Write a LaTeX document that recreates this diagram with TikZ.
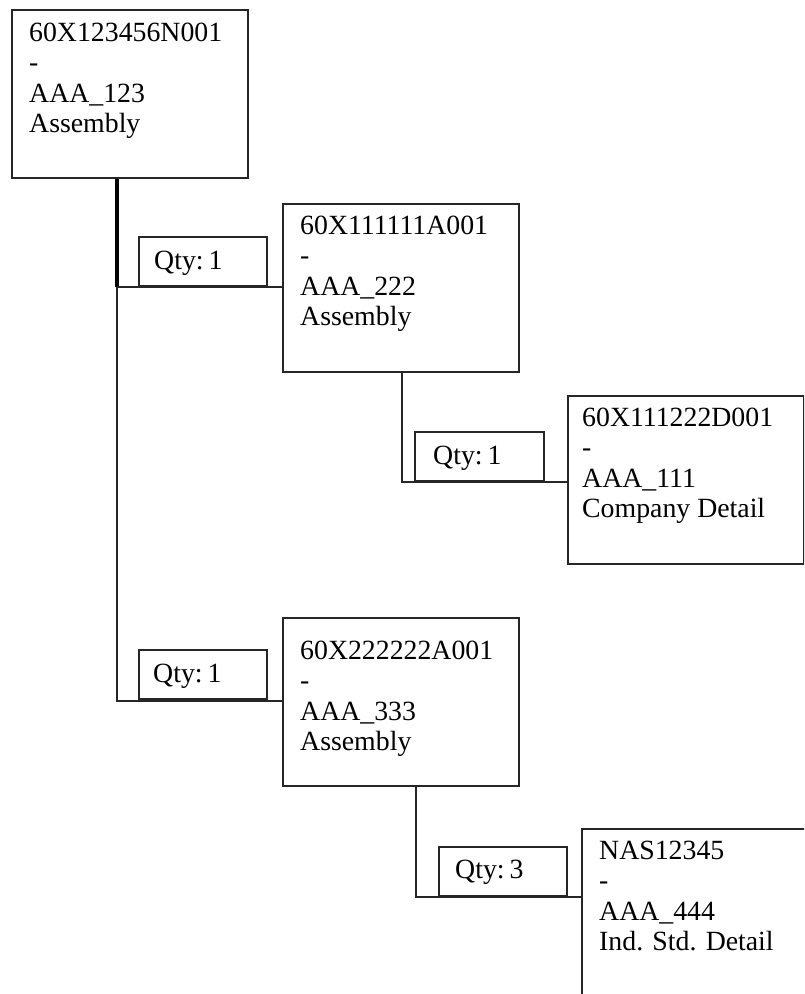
\documentclass[tikz,border=0pt]{standalone}
\usepackage{fontspec}
\setmainfont{Liberation Serif}
\begin{document}
\begin{tikzpicture}[x=1pt,y=-1pt,
  box/.style={draw=black!85, line width=2pt, rectangle, inner sep=0pt},
  bigbox/.style={box, anchor=north west, minimum width=236pt, minimum height=168pt},
  qtybox/.style={box, anchor=south west, minimum width=128pt, minimum height=49pt},
  txt/.style={anchor=base west, align=left, inner sep=0pt, text=black, font=\fontsize{27.8}{30.5}\selectfont},
  conn/.style={draw=black!85, line width=2pt},
  trunk/.style={draw=black, line width=3.5pt}]
\useasboundingbox (0,0) rectangle (804,994);
\clip (0,0) rectangle (804,994);

% main boxes
\node[bigbox] (A) at (11,9) {};
\node[bigbox] (B) at (282,203) {};
\node[bigbox] (C) at (567,395) {};
\node[bigbox] (D) at (282,617) {};
\node[bigbox] (E) at (581,828) {};

% junction coordinates
\coordinate (j1) at (117,287);
\coordinate (j2) at (117,701);
\coordinate (k1) at (402,482);
\coordinate (k2) at (416,897);

% connectors
\draw[trunk] (A.south -| j1) -- (j1);
\draw[conn] (j1) -- (B.west |- j1);
\draw[conn] (j1) -- (j2) -- (D.west |- j2);
\draw[conn] (B.south -| k1) -- (k1) -- (C.west |- k1);
\draw[conn] (D.south -| k2) -- (k2) -- (E.west |- k2);

% quantity boxes
\node[qtybox] (Q1) at (138,287) {};
\node[qtybox, minimum width=129pt] (Q2) at (414,482) {};
\node[qtybox] (Q3) at (138,700) {};
\node[qtybox] (Q4) at (438,897) {};

% texts (anchor at baseline of last line)
\node[txt] (At) at (29,132.5) {60X123456N001\\-\\AAA\_123\\Assembly};
\node[txt] (Bt) at (300,325.5) {60X111111A001\\-\\AAA\_222\\Assembly};
\node[txt] (Ct) at (582,517.5) {60X111222D001\\-\\AAA\_111\\Company Detail};
\node[txt] (Dt) at (300,750.5) {60X222222A001\\-\\AAA\_333\\Assembly};
\node[txt] (Et) at (599,950.5) {NAS12345\\-\\AAA\_444\\Ind. Std. Detail};

\node[txt] (Q1t) at (154,269) {Qty:\hspace{5pt}1};
\node[txt] (Q2t) at (433,464) {Qty:\hspace{5pt}1};
\node[txt] (Q3t) at (153,682) {Qty:\hspace{5pt}1};
\node[txt] (Q4t) at (455,878) {Qty:\hspace{5pt}3};
\end{tikzpicture}
\end{document}
